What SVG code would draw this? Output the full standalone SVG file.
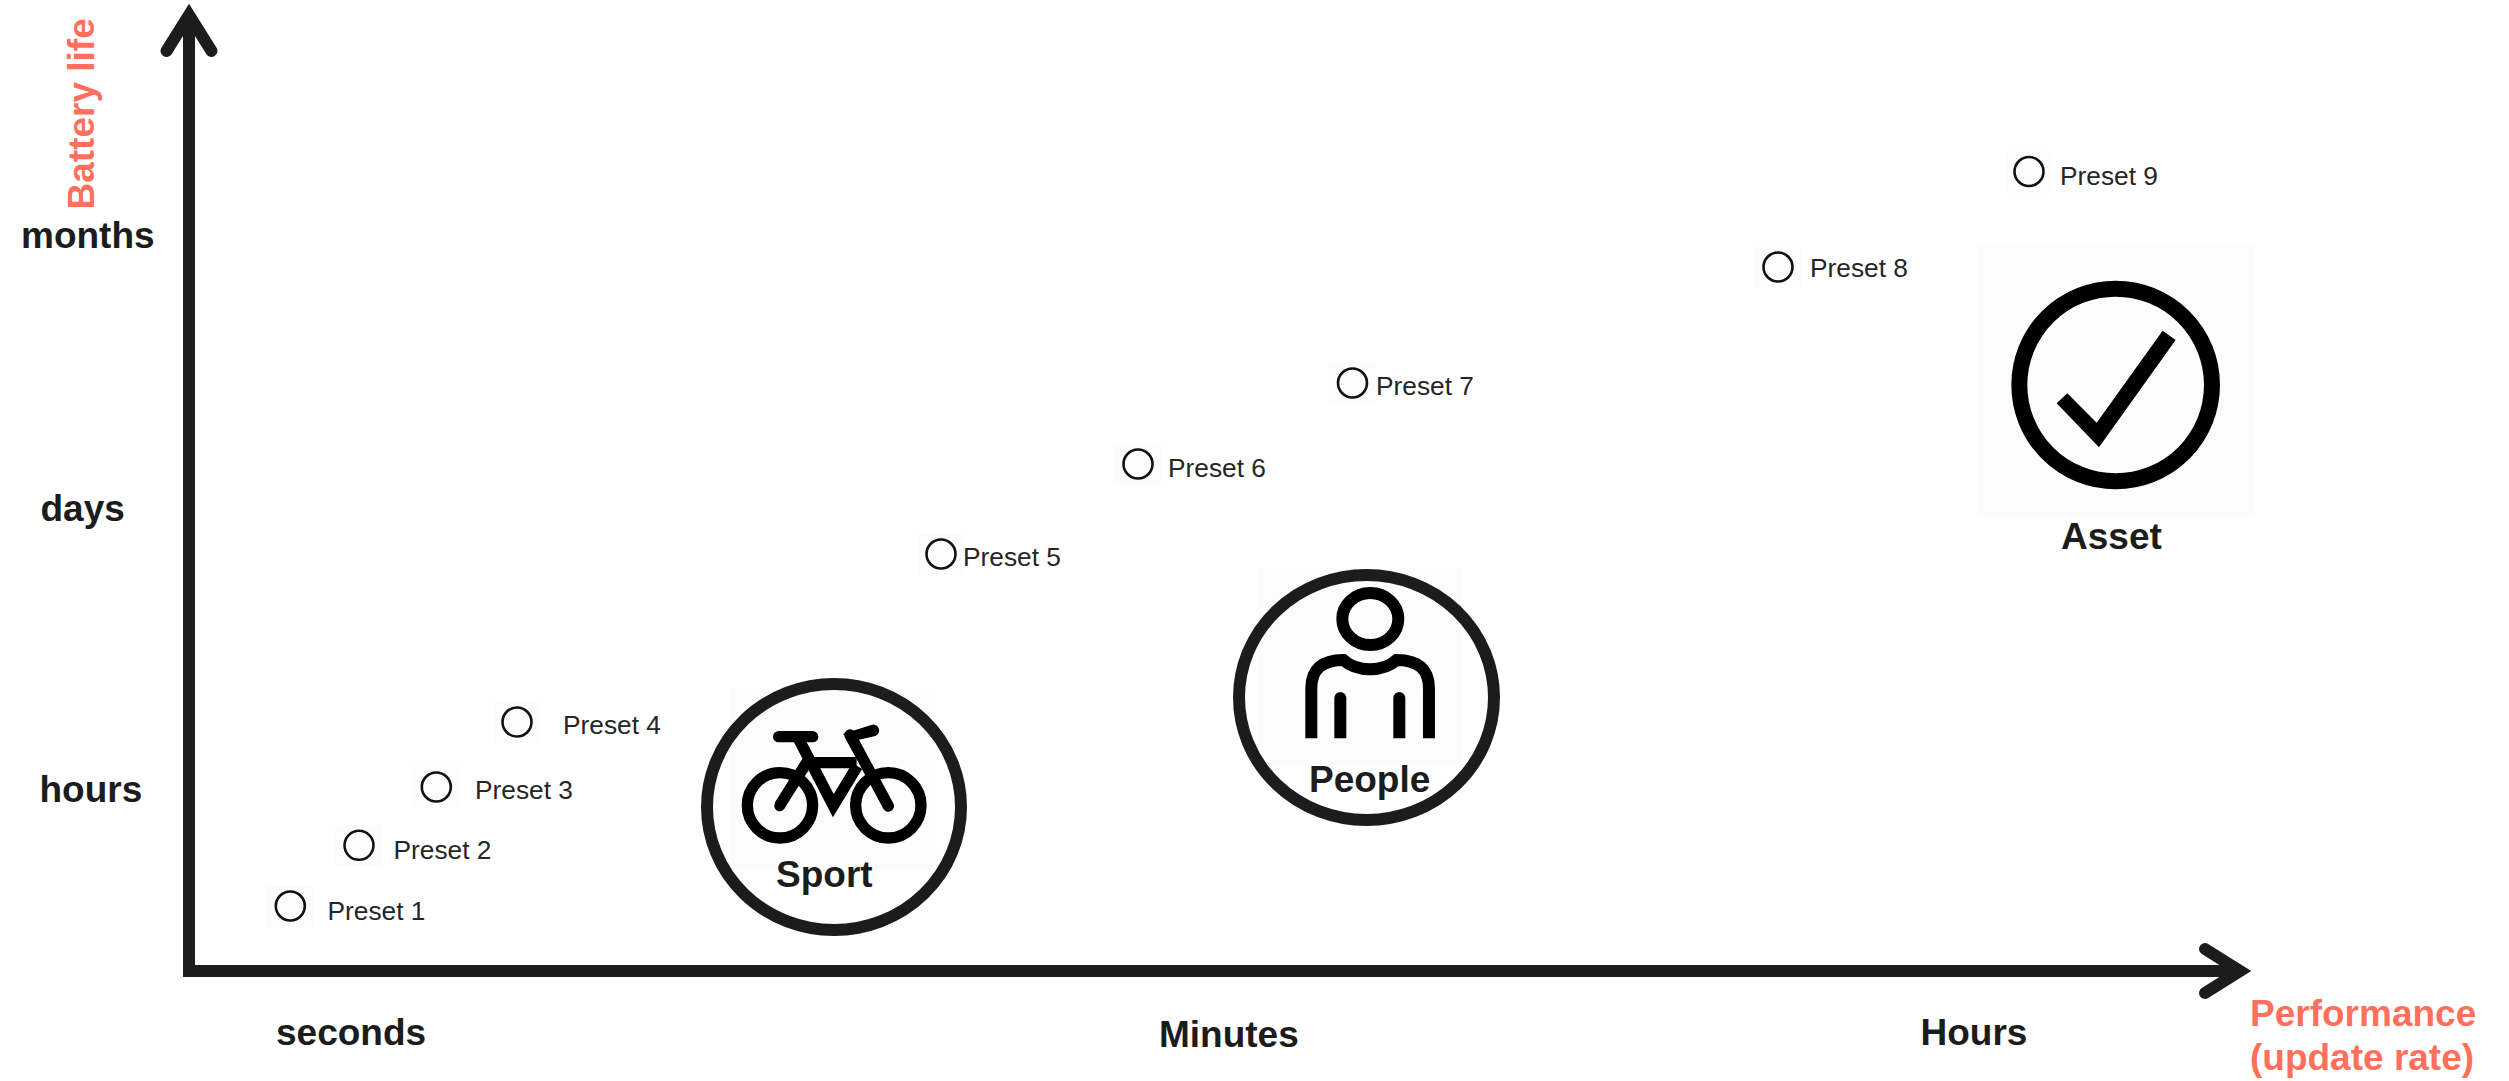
<svg xmlns="http://www.w3.org/2000/svg" width="2509" height="1081" viewBox="0 0 2509 1081">
<style>
text{font-family:"Liberation Sans",Arial,sans-serif}
.b{font-weight:700;font-size:37px;fill:#1c1c1c}
.o{font-weight:700;font-size:37px;fill:#ff705c}
.p{font-size:26.300px;fill:#262626}
.bg{fill:#fcfcfc}
.ring{fill:none;stroke:#1c1c1c;stroke-width:12}
.dot{fill:none;stroke:#111;stroke-width:2.600}
.ic{fill:none;stroke:#000}
.ax{fill:none;stroke:#1c1c1c;stroke-width:12}
.hd{fill:none;stroke:#1c1c1c;stroke-width:12;stroke-linecap:round;stroke-linejoin:miter}
</style>
<defs>
<g id="pt"><rect class="bg" x="-24" y="-20" width="47" height="41"/><circle class="dot" r="14.500"/></g>
</defs>
<rect width="2509" height="1081" fill="#fff"/>
<g id="connectors">
<path class="ax" d="M189 15V971H2240"/>
<path class="hd" d="M166.500 51L189 15L211.500 51"/>
<path class="hd" d="M2205 949L2240 971L2205 993"/>
</g>
<g id="axis-labels">
<text class="o" transform="translate(94 209.500) rotate(-90)">Battery life</text>
<text class="b" x="21" y="248">months</text>
<text class="b" x="40.500" y="521">days</text>
<text class="b" x="39.500" y="802">hours</text>
<text class="b" x="276" y="1045">seconds</text>
<text class="b" x="1159" y="1047">Minutes</text>
<text class="b" x="1920.500" y="1045">Hours</text>
<text class="o" x="2250" y="1026">Performance</text>
<text class="o" x="2250" y="1070">(update rate)</text>
</g>
<g id="preset-1"><use href="#pt" x="290.300" y="906"/><text class="p" x="327.500" y="920">Preset 1</text></g>
<g id="preset-2"><use href="#pt" x="359" y="845.300"/><text class="p" x="393.500" y="859">Preset 2</text></g>
<g id="preset-3"><use href="#pt" x="436.300" y="787"/><text class="p" x="475" y="799">Preset 3</text></g>
<g id="preset-4"><use href="#pt" x="517" y="722"/><text class="p" x="563" y="734">Preset 4</text></g>
<g id="preset-5"><use href="#pt" x="941" y="554"/><text class="p" x="963" y="566">Preset 5</text></g>
<g id="preset-6"><use href="#pt" x="1138" y="464"/><text class="p" x="1168" y="477">Preset 6</text></g>
<g id="preset-7"><use href="#pt" x="1352.500" y="383"/><text class="p" x="1376" y="395">Preset 7</text></g>
<g id="preset-8"><use href="#pt" x="1778" y="267"/><text class="p" x="1810" y="277">Preset 8</text></g>
<g id="preset-9"><use href="#pt" x="2029" y="171.500"/><text class="p" x="2060" y="185">Preset 9</text></g>
<g id="sport">
<rect class="bg" x="731" y="688" width="205" height="181"/>
<ellipse class="ring" cx="834" cy="807" rx="127" ry="123"/>
<g transform="translate(660 640) scale(.3333)">
<g class="ic" stroke-width="34">
<circle cx="360" cy="496" r="98"/><circle cx="685" cy="496" r="98"/>
<path d="M358 498L440 368H590"/>
<path d="M415 295L520 497L592 378" stroke-miterlimit="8"/>
<path d="M570 285L685 498" stroke-linecap="round"/>
</g>
<path class="ic" stroke-width="34" stroke-linecap="round" d="M356 290H458"/>
<path d="M548 282L634 255A15 15 0 0 1 646 288L580 303Z" fill="#000"/>
<circle cx="359" cy="498" r="16" fill="#000"/><circle cx="685" cy="498" r="16" fill="#000"/>
</g>
<text class="b" x="776" y="887">Sport</text>
</g>
<g id="people">
<rect class="bg" x="1259" y="568" width="203" height="197"/>
<ellipse class="ring" cx="1366.500" cy="697.500" rx="127.500" ry="122.500"/>
<g transform="translate(1200 550) scale(.3333)">
<g class="ic" stroke-width="36">
<ellipse cx="511" cy="207" rx="84" ry="78"/>
<path d="M334 565V415Q334 330 430 330Q460 358 510 358Q560 358 590 330Q687 330 687 415V565"/>
</g>
<path d="M403 565V444A18 18 0 0 1 439 444V565ZM580 565V444A18 18 0 0 1 616 444V565Z" fill="#000"/>
</g>
<text class="b" x="1309" y="792">People</text>
</g>
<g id="asset">
<rect class="bg" x="1977" y="245" width="277" height="272"/>
<g transform="translate(1960 230) scale(.3333)">
<circle class="ic" cx="467" cy="465" r="289" stroke-width="48"/>
<path d="M290 520L322 490L410 578L608 302L647 330L417 652Z" fill="#000"/>
</g>
<text class="b" x="2061" y="549">Asset</text>
</g>
</svg>
